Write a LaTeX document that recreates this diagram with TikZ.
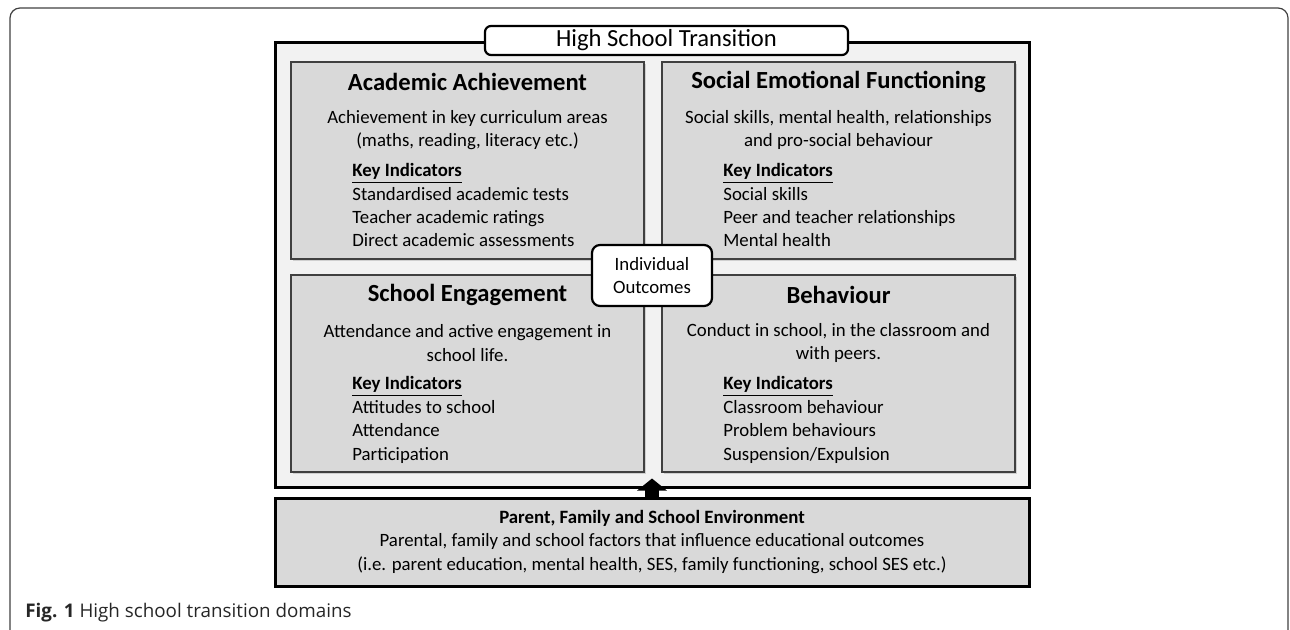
\documentclass[tikz,border=0pt]{standalone}
\usepackage{fontspec}
\setmainfont{Carlito}
\newfontfamily\legendefont{Open Sans}
\usetikzlibrary{arrows.meta,shadows}
\definecolor{fondclair}{HTML}{F2F2F2}
\definecolor{fondgris}{HTML}{D9D9D9}
\definecolor{bordgris}{HTML}{404040}
\begin{document}
\begin{tikzpicture}[x=0.5pt,y=-0.5pt]
	\tikzstyle{cadre}=[draw=black,line width=1.5pt,fill=fondclair,minimum width=377pt,minimum height=222pt,inner sep=0pt]
	\tikzstyle{boite}=[draw=bordgris,line width=0.7pt,fill=fondgris,minimum width=176.5pt,minimum height=98.5pt,inner sep=0pt,drop shadow={shadow xshift=1pt,shadow yshift=-1pt,opacity=0.3}]
	\tikzstyle{environnement}=[draw=black,line width=1.5pt,fill=fondgris,minimum width=377pt,minimum height=44pt,inner sep=0pt]
	\tikzstyle{etiquette}=[draw=black,line width=1.1pt,fill=white,rounded corners=3pt,inner sep=0pt]
	\tikzstyle{titre}=[font=\fontsize{12.3}{14}\selectfont\bfseries,inner sep=0pt]
	\tikzstyle{texte}=[font=\fontsize{9.4}{11.7}\selectfont,align=center,inner sep=0pt]
	\tikzstyle{liste}=[font=\fontsize{9.4}{11.7}\selectfont,align=left,inner sep=0pt,anchor=base west]
	\tikzstyle{fleche}=[line width=7pt,-{Triangle[width=14.5pt,length=6pt]}]
	\def\ColonneA{467.5}
	\def\ColonneB{838.5}
	\def\LigneA{160.5}
	\def\LigneB{373.5}
	\def\DecalageA{0}
	\def\DecalageB{213}
	\useasboundingbox (0,0) rectangle (1290,630);
	% cadre de la page
	\draw[bordgris,line width=0.6pt,rounded corners=5pt] (10,640) -- (10,8) -- (1288,8) -- (1288,640);
	% cadre principal
	\node[cadre] (HST) at (652,265) {};
	\node[etiquette,minimum width=181.5pt,minimum height=14.5pt,font=\fontsize{12.3}{14}\selectfont] (HSTt) at (666.5,40.5) {High School Transition};
	% les quatre domaines
	\node[boite] (AA) at (\ColonneA,\LigneA) {};
	\node[boite] (SEF) at (\ColonneB,\LigneA) {};
	\node[boite] (SE) at (\ColonneA,\LigneB) {};
	\node[boite] (BE) at (\ColonneB,\LigneB) {};
	\node[titre] (AAt) at (\ColonneA,{82+\DecalageA}) {Academic Achievement};
	\node[texte] (AAd) at (\ColonneA,{130+\DecalageA}) {Achievement in key curriculum areas\\(maths, reading, literacy etc.)};
	\node[liste] (AAk) at (352,{247+\DecalageA}) {\textbf{\underline{Key Indicators}}\\Standardised academic tests\\Teacher academic ratings\\Direct academic assessments};
	\node[titre] (SEFt) at (\ColonneB,{82+\DecalageA}) {Social Emotional Functioning};
	\node[texte] (SEFd) at (\ColonneB,{130+\DecalageA}) {Social skills, mental health, relationships\\and pro-social behaviour};
	\node[liste] (SEFk) at (723,{247+\DecalageA}) {\textbf{\underline{Key Indicators}}\\Social skills\\Peer and teacher relationships\\Mental health};
	\node[titre] (SEt) at (\ColonneA,{82+\DecalageB}) {School Engagement};
	\node[texte] (SEd) at (\ColonneA,{130+\DecalageB}) {Attendance and active engagement in\\school life.};
	\node[liste] (SEk) at (352,{247+\DecalageB}) {\textbf{\underline{Key Indicators}}\\Attitudes to school\\Attendance\\Participation};
	\node[titre] (BEt) at (\ColonneB,{82+\DecalageB}) {Behaviour};
	\node[texte] (BEd) at (\ColonneB,{130+\DecalageB}) {Conduct in school, in the classroom and\\with peers.};
	\node[liste] (BEk) at (723,{247+\DecalageB}) {\textbf{\underline{Key Indicators}}\\Classroom behaviour\\Problem behaviours\\Suspension/Expulsion};
	\node[etiquette,rounded corners=4pt,minimum width=60pt,minimum height=30.5pt,font=\fontsize{9.4}{11.7}\selectfont,align=center] (IO) at (652,275.5) {Individual\\Outcomes};
	% environnement
	\node[environnement,font=\fontsize{9.4}{11.75}\selectfont,align=center] (PFS) at (652,542) {\textbf{Parent, Family and School Environment}\\Parental, family and school factors that influence educational outcomes\\(i.e. parent education, mental health, SES, family functioning, school SES etc.)};
	\draw[fleche] (PFS.north) -- ([yshift=5pt]HST.south);
	% legende
	\node[font=\fontsize{9.4}{11}\legendefont,anchor=west,inner sep=0pt,text=black!85] (fig) at (25,613) {\textbf{Fig. 1} High school transition domains};
\end{tikzpicture}
\end{document}
